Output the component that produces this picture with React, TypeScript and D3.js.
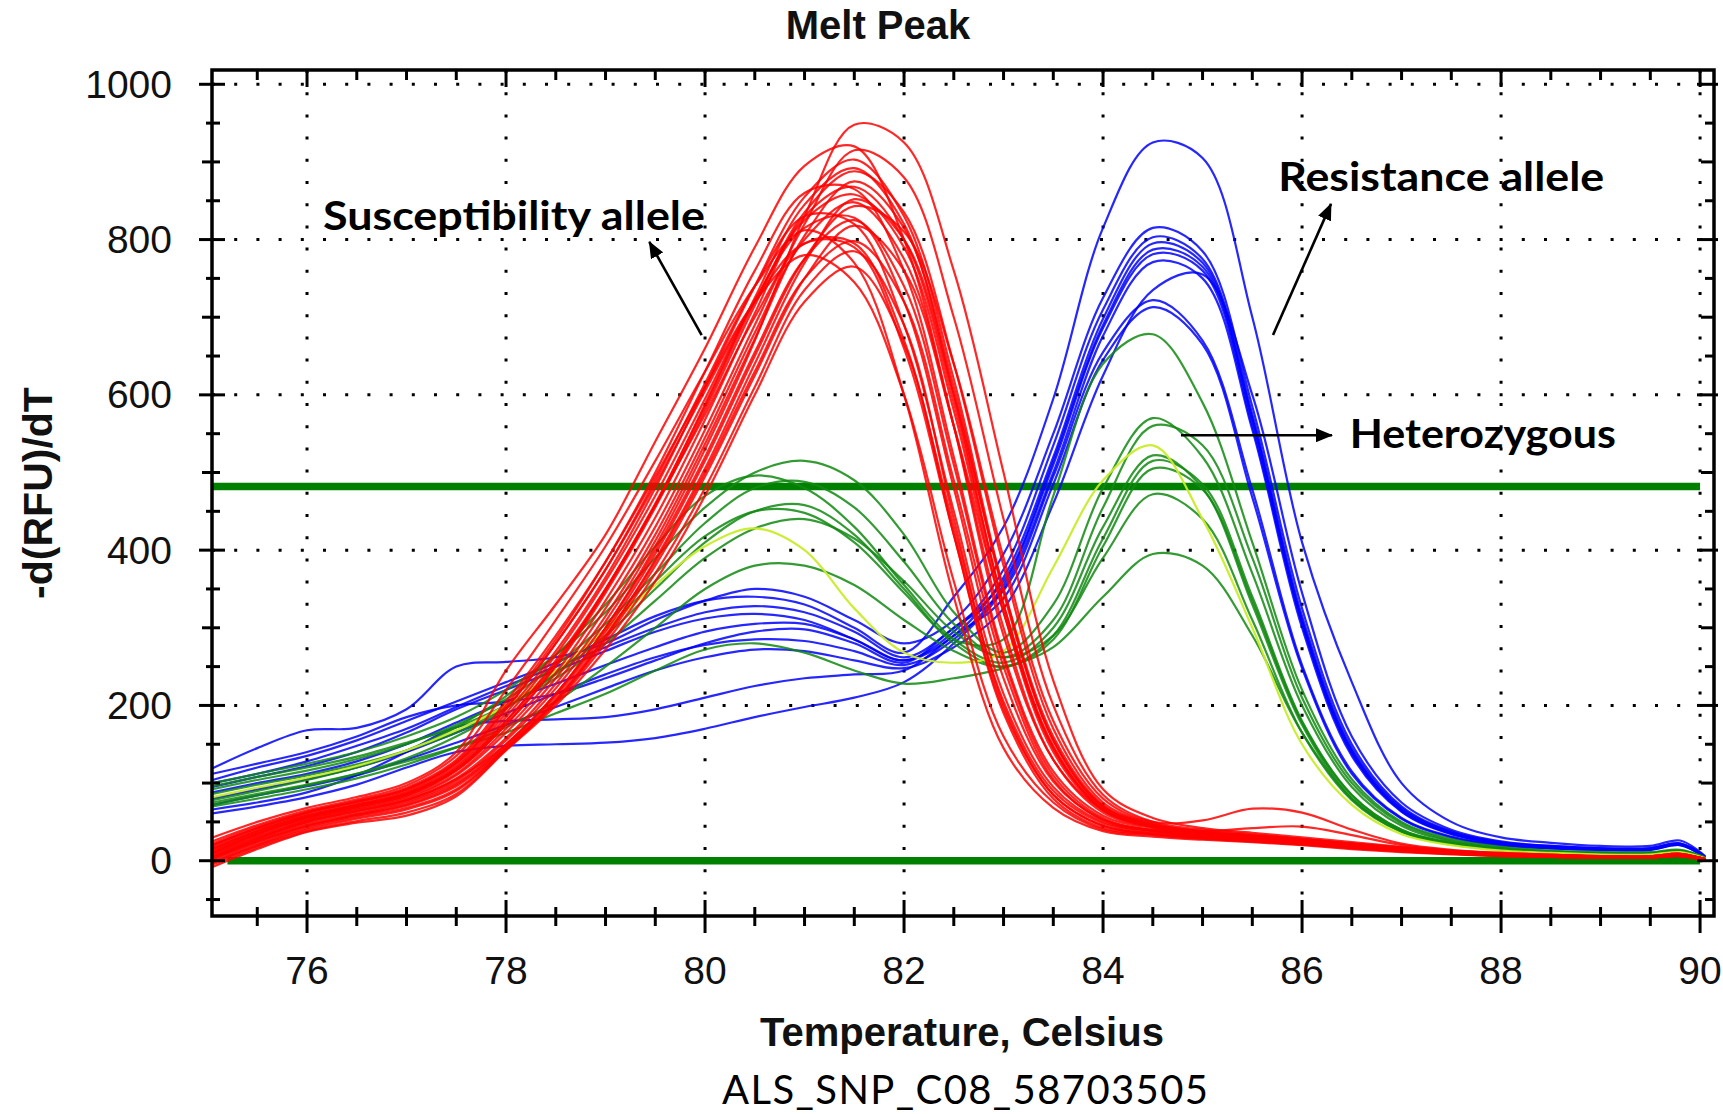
import React from 'react';
import * as d3 from 'd3';

// Temperature grid (Celsius) shared by every melt curve
const TEMPS = [75.05, 75.5, 76, 76.5, 77, 77.5, 78, 78.5, 79, 79.5, 80, 80.5, 81, 81.5, 82, 82.5, 83, 83.5, 84, 84.5, 85, 85.5, 86, 86.5, 87, 87.5, 88, 88.5, 89, 89.5, 89.8, 90.05];

// Susceptibility allele (red) -d(RFU)/dT
const RED_CURVES = [
  [5, 28, 50, 64, 78, 105, 150, 215, 300, 405, 530, 670, 830, 948, 925, 760, 500, 232, 92, 55, 42, 36, 30, 24, 18, 13, 10, 8, 6, 6, 9, 2],
  [30, 50, 68, 82, 100, 140, 245, 330, 420, 540, 660, 790, 895, 920, 800, 560, 290, 130, 65, 45, 36, 32, 28, 22, 16, 12, 9, 7, 5, 5, 8, 2],
  [8, 30, 52, 66, 80, 110, 165, 235, 325, 430, 555, 690, 820, 915, 880, 700, 440, 200, 85, 50, 40, 34, 28, 22, 17, 12, 9, 7, 6, 6, 9, 2],
  [15, 38, 58, 72, 88, 122, 190, 270, 365, 480, 610, 740, 855, 903, 830, 620, 350, 155, 70, 46, 37, 32, 27, 21, 16, 12, 9, 7, 5, 5, 8, 2],
  [10, 33, 55, 69, 84, 116, 175, 250, 345, 455, 580, 715, 835, 888, 835, 640, 380, 170, 75, 48, 38, 33, 28, 22, 17, 12, 9, 7, 5, 5, 8, 2],
  [20, 42, 62, 76, 92, 128, 200, 285, 385, 500, 630, 760, 860, 865, 760, 520, 265, 115, 58, 42, 34, 30, 25, 20, 15, 11, 8, 6, 5, 5, 7, 1],
  [12, 35, 56, 70, 86, 118, 180, 255, 350, 460, 585, 720, 825, 858, 790, 580, 320, 140, 65, 44, 36, 31, 26, 21, 16, 11, 8, 6, 5, 5, 8, 2],
  [6, 28, 50, 64, 78, 106, 158, 228, 315, 420, 545, 680, 800, 848, 775, 560, 300, 130, 62, 43, 35, 30, 26, 20, 15, 11, 8, 6, 5, 5, 7, 1],
  [18, 40, 60, 74, 90, 125, 195, 280, 375, 490, 615, 740, 830, 820, 690, 450, 215, 95, 50, 38, 32, 28, 24, 19, 14, 10, 8, 6, 4, 4, 7, 1],
  [3, 25, 46, 60, 74, 100, 150, 215, 300, 400, 520, 655, 775, 825, 740, 510, 260, 110, 55, 40, 38, 42, 44, 33, 20, 13, 9, 7, 5, 5, 8, 2],
  [-2, 20, 42, 56, 68, 92, 145, 205, 285, 380, 495, 625, 750, 818, 760, 560, 320, 145, 66, 44, 36, 31, 26, 21, 16, 11, 8, 6, 5, 5, 8, 2],
  [14, 36, 57, 71, 86, 118, 180, 258, 350, 458, 575, 700, 795, 795, 670, 430, 205, 90, 48, 37, 31, 27, 23, 18, 14, 10, 7, 5, 4, 4, 6, 1],
  [0, 22, 44, 58, 71, 96, 146, 208, 290, 385, 500, 630, 750, 798, 720, 490, 250, 105, 52, 39, 32, 28, 24, 19, 14, 10, 8, 6, 4, 4, 7, 1],
  [-5, 17, 38, 51, 62, 86, 143, 203, 280, 370, 480, 610, 735, 785, 690, 440, 200, 85, 45, 35, 30, 26, 22, 17, 13, 9, 7, 5, 4, 4, 6, 1],
  [22, 44, 63, 77, 94, 130, 205, 290, 385, 495, 610, 720, 780, 745, 600, 360, 160, 75, 40, 33, 28, 25, 21, 17, 12, 9, 7, 5, 4, 4, 6, 1],
  [-8, 15, 37, 49, 58, 83, 142, 200, 272, 360, 470, 600, 720, 765, 665, 420, 190, 80, 42, 34, 29, 25, 21, 16, 12, 9, 6, 5, 4, 4, 6, 1],
  [2, 24, 45, 59, 72, 98, 148, 212, 295, 395, 515, 650, 775, 843, 810, 640, 390, 180, 80, 50, 52, 67, 62, 40, 22, 14, 10, 8, 6, 6, 9, 2],
  [25, 46, 65, 79, 97, 135, 220, 310, 405, 515, 630, 740, 812, 770, 600, 340, 145, 68, 38, 31, 27, 24, 20, 15, 11, 8, 6, 5, 4, 4, 6, 1],
  [9, 31, 53, 67, 82, 112, 170, 242, 335, 442, 568, 705, 830, 868, 800, 590, 330, 148, 68, 45, 36, 31, 26, 21, 16, 11, 8, 6, 5, 5, 8, 2],
  [16, 38, 58, 72, 87, 120, 185, 265, 360, 470, 595, 722, 815, 828, 720, 480, 235, 102, 53, 39, 33, 29, 24, 19, 14, 10, 8, 6, 4, 4, 7, 1],
  [4, 26, 48, 62, 76, 103, 155, 222, 308, 412, 537, 672, 805, 875, 815, 610, 345, 155, 70, 46, 37, 32, 27, 21, 16, 11, 8, 6, 5, 5, 8, 2],
  [-3, 19, 40, 54, 66, 90, 144, 206, 288, 388, 505, 640, 770, 852, 800, 600, 350, 160, 72, 47, 37, 32, 27, 21, 16, 11, 8, 6, 5, 5, 8, 2],
  [20, 42, 62, 76, 92, 126, 196, 280, 375, 485, 605, 720, 795, 790, 660, 420, 195, 85, 45, 35, 30, 26, 22, 17, 13, 9, 7, 5, 4, 4, 6, 1],
  [11, 34, 55, 69, 84, 116, 176, 252, 348, 458, 588, 725, 845, 892, 820, 600, 330, 145, 66, 44, 36, 31, 26, 21, 16, 11, 8, 6, 5, 5, 8, 2],
];

// Resistance allele (blue)
const BLUE_CURVES = [
  [104, 120, 135, 155, 180, 205, 230, 255, 285, 315, 335, 340, 330, 300, 268, 340, 430, 595, 815, 925, 905, 700, 410, 230, 100, 50, 30, 23, 19, 19, 26, 6],
  [119, 145, 168, 171, 195, 250, 256, 262, 280, 310, 335, 350, 340, 310, 280, 310, 395, 550, 725, 815, 785, 585, 325, 150, 70, 38, 24, 19, 16, 16, 22, 5],
  [95, 108, 122, 140, 165, 195, 220, 245, 270, 295, 312, 318, 310, 285, 258, 295, 375, 535, 710, 803, 775, 575, 315, 145, 68, 37, 23, 18, 16, 16, 22, 5],
  [88, 100, 112, 128, 150, 178, 205, 228, 252, 275, 295, 305, 305, 285, 258, 290, 365, 520, 698, 795, 770, 570, 310, 142, 66, 36, 23, 18, 15, 15, 21, 5],
  [80, 92, 105, 120, 140, 165, 190, 215, 240, 262, 278, 285, 283, 270, 252, 285, 355, 510, 686, 781, 760, 560, 305, 138, 64, 35, 22, 18, 15, 15, 21, 5],
  [72, 84, 96, 110, 130, 152, 175, 198, 222, 245, 262, 272, 270, 258, 248, 275, 325, 460, 625, 735, 755, 600, 345, 160, 75, 40, 25, 19, 16, 16, 22, 5],
  [112, 125, 140, 160, 185, 200, 205, 215, 235, 258, 280, 295, 298, 280, 255, 300, 348, 495, 655, 722, 670, 478, 252, 115, 55, 31, 20, 16, 14, 14, 20, 4],
  [66, 75, 88, 110, 140, 172, 180, 182, 185, 195, 210, 225, 235, 240, 245, 290, 338, 485, 645, 713, 665, 468, 248, 112, 54, 30, 20, 16, 14, 14, 20, 4],
  [61, 70, 82, 98, 120, 140, 148, 150, 152, 158, 170, 185, 198, 210, 230, 280, 350, 500, 676, 771, 750, 555, 300, 135, 63, 34, 22, 17, 15, 15, 21, 5],
  [100, 112, 128, 148, 170, 198, 225, 250, 275, 300, 320, 328, 320, 295, 262, 300, 360, 515, 690, 787, 765, 567, 307, 140, 65, 35, 22, 18, 15, 15, 21, 5],
];

// Heterozygous (green)
const GREEN_CURVES = [
  [100, 112, 125, 140, 160, 185, 220, 265, 320, 390, 455, 500, 515, 490, 420, 320, 268, 330, 480, 570, 520, 370, 200, 95, 45, 25, 16, 12, 10, 10, 13, 4],
  [86, 98, 110, 124, 142, 165, 198, 240, 290, 350, 410, 450, 458, 420, 350, 285, 285, 470, 640, 678, 590, 410, 220, 105, 50, 28, 18, 13, 11, 11, 14, 4],
  [92, 104, 116, 131, 150, 175, 208, 252, 305, 370, 435, 480, 488, 455, 385, 305, 262, 310, 455, 560, 535, 390, 210, 100, 48, 26, 17, 12, 10, 10, 13, 4],
  [78, 90, 104, 120, 142, 172, 212, 265, 330, 405, 470, 496, 480, 430, 355, 285, 255, 300, 430, 522, 480, 330, 175, 80, 38, 22, 15, 11, 9, 9, 12, 3],
  [72, 84, 97, 112, 132, 160, 196, 242, 298, 360, 418, 450, 448, 410, 345, 280, 250, 290, 415, 515, 485, 340, 180, 85, 40, 23, 15, 11, 9, 9, 12, 3],
  [70, 80, 92, 106, 124, 146, 172, 205, 250, 300, 350, 380, 380, 355, 310, 270, 250, 285, 405, 505, 478, 335, 178, 84, 40, 23, 15, 11, 9, 9, 12, 3],
  [96, 108, 120, 134, 152, 172, 200, 235, 280, 335, 390, 428, 440, 415, 360, 295, 262, 290, 390, 472, 440, 310, 165, 78, 37, 21, 14, 10, 9, 9, 12, 3],
  [75, 86, 98, 112, 128, 146, 165, 190, 215, 245, 272, 280, 268, 245, 228, 235, 248, 275, 340, 395, 380, 290, 165, 80, 38, 22, 14, 10, 9, 9, 12, 3],
];

// Heterozygous sample drawn in yellow-green
const YELLOW_CURVES = [
  [82, 94, 107, 122, 142, 168, 200, 245, 298, 355, 405, 428, 400, 325, 268, 255, 270, 378, 490, 535, 440, 300, 150, 72, 34, 20, 13, 10, 8, 8, 11, 3],
];

// Horizontal threshold lines (green)
const THRESHOLDS = [482, 0];

const X_TICK_LABELS = [76, 78, 80, 82, 84, 86, 88, 90];
const Y_TICK_LABELS = [0, 200, 400, 600, 800, 1000];

const TITLE = 'Melt Peak';
const X_TITLE = 'Temperature, Celsius';
const Y_TITLE = '-d(RFU)/dT';
const SUBTITLE = 'ALS_SNP_C08_58703505';

export default function App() {
  const W = 1723;
  const H = 1114;
  const L = 212, R = 1714, T = 70, B = 916;

  const x = d3.scaleLinear().domain([75.045, 90.14]).range([L, R]);
  const y = d3.scaleLinear().domain([-71.2, 1018.4]).range([B, T]);

  const line = d3
    .line<number>()
    .x((_, i) => x(TEMPS[i]))
    .y((d) => y(d))
    .curve(d3.curveCatmullRom.alpha(0.5));

  const yMinor = d3.range(-50, 1001, 50);
  const xMinor = d3.range(75.5, 90.01, 0.5);
  const isMajorY = (v: number) => v % 200 === 0;
  const isMedY = (v: number) => v % 100 === 0;
  const isMajorX = (t: number) => Math.abs(t / 2 - Math.round(t / 2)) < 1e-6;

  const dot = { stroke: '#000', strokeWidth: 3, strokeDasharray: '3 19.2', fill: 'none' };
  const labelFont = "'Liberation Sans', Arial, sans-serif";
  const annFont = "Lato, 'Open Sans', sans-serif";

  // annotation anchors in data units (temperature, value)
  const arrows = [
    { from: [79.966, 677], to: [79.44, 797] },
    { from: [85.708, 677], to: [86.291, 846] },
    { from: [84.783, 548], to: [86.301, 548] },
  ];
  const annTexts = [
    { text: 'Susceptibility allele', t: 76.16, v: 812, len: 382 },
    { text: 'Resistance allele', t: 85.76, v: 862, len: 326 },
    { text: 'Heterozygous', t: 86.48, v: 532, len: 266 },
  ];

  return (
    <svg
      width={W}
      height={H}
      viewBox={`0 0 ${W} ${H}`}
      style={{ position: 'absolute', left: 0, top: 0, background: '#fff' }}
    >
      <defs>
        <clipPath id="plotClip">
          <rect x={L} y={T} width={R - L} height={B - T} />
        </clipPath>
        <marker
          id="arrowHead"
          markerUnits="userSpaceOnUse"
          markerWidth={18}
          markerHeight={14}
          refX={16}
          refY={7}
          orient="auto"
        >
          <path d="M0,0 L17,7 L0,14 Z" fill="#000" />
        </marker>
      </defs>
      <rect x={0} y={0} width={W} height={H} fill="#fff" />

      {/* title */}
      <text x={878} y={39} textAnchor="middle" fontFamily={labelFont} fontWeight="bold" fontSize={40} fill="#111">
        {TITLE}
      </text>

      {/* dotted grid */}
      {Y_TICK_LABELS.map((v) => (
        <line key={'gy' + v} x1={L} x2={R} y1={y(v)} y2={y(v)} {...dot} />
      ))}
      {X_TICK_LABELS.map((t) => (
        <line key={'gx' + t} x1={x(t)} x2={x(t)} y1={T} y2={B} {...dot} />
      ))}

      {/* threshold lines */}
      {THRESHOLDS.map((v, i) => (
        <line
          key={'th' + i}
          x1={x(i === 0 ? 75.045 : 75.2)}
          x2={x(90)}
          y1={y(v)}
          y2={y(v)}
          stroke="#008000"
          strokeWidth={7.5}
        />
      ))}

      {/* curves */}
      <g clipPath="url(#plotClip)" fill="none" strokeWidth={2.2} strokeLinejoin="round">
        {BLUE_CURVES.map((c, i) => (
          <path key={'b' + i} d={line(c) || ''} stroke="#0000ff" strokeOpacity={0.85} />
        ))}
        {GREEN_CURVES.map((c, i) => (
          <path key={'g' + i} d={line(c) || ''} stroke="#118a11" strokeOpacity={0.85} />
        ))}
        {YELLOW_CURVES.map((c, i) => (
          <path key={'y' + i} d={line(c) || ''} stroke="#c8ec28" strokeOpacity={0.95} />
        ))}
        {RED_CURVES.map((c, i) => (
          <path key={'r' + i} d={line(c) || ''} stroke="#ff0000" strokeOpacity={0.85} />
        ))}
      </g>

      {/* frame */}
      <rect x={L} y={T} width={R - L} height={B - T} fill="none" stroke="#000" strokeWidth={3.5} />

      {/* y ticks left & right */}
      {yMinor.map((v) => {
        const yy = y(v);
        const maj = isMajorY(v);
        const med = isMedY(v);
        return (
          <g key={'yt' + v} stroke="#000" strokeWidth={3}>
            <line x1={maj ? L - 13 : med ? L - 10 : L - 6} x2={maj ? L + 13 : L + 8} y1={yy} y2={yy} />
            <line x1={maj ? R - 17 : med ? R - 13 : R - 9} x2={maj ? R + 4 : R} y1={yy} y2={yy} />
          </g>
        );
      })}

      {/* x ticks bottom & top */}
      {xMinor.map((t) => {
        const xx = x(t);
        const maj = isMajorX(t);
        return (
          <g key={'xt' + t} stroke="#000" strokeWidth={3}>
            <line x1={xx} x2={xx} y1={maj ? B - 16 : B - 9} y2={maj ? B + 17 : B + 10} />
            <line x1={xx} x2={xx} y1={T} y2={maj ? T + 17 : T + 10} />
          </g>
        );
      })}

      {/* tick labels */}
      {Y_TICK_LABELS.map((v) => (
        <text
          key={'yl' + v}
          x={172}
          y={y(v) + 13.5}
          textAnchor="end"
          fontFamily={labelFont}
          fontSize={39}
          fill="#111"
        >
          {v}
        </text>
      ))}
      {X_TICK_LABELS.map((t) => (
        <text
          key={'xl' + t}
          x={x(t)}
          y={984}
          textAnchor="middle"
          fontFamily={labelFont}
          fontSize={39}
          fill="#111"
        >
          {t}
        </text>
      ))}

      {/* axis titles */}
      <text x={962} y={1046} textAnchor="middle" fontFamily={labelFont} fontWeight="bold" fontSize={40} fill="#111">
        {X_TITLE}
      </text>
      <text
        transform="translate(52,493) rotate(-90)"
        textAnchor="middle"
        fontFamily={labelFont}
        fontWeight="bold"
        fontSize={41}
        fill="#111"
      >
        {Y_TITLE}
      </text>
      <text
        x={722}
        y={1104}
        fontFamily={annFont}
        fontSize={40}
        fill="#000"
        textLength={486}
        lengthAdjust="spacing"
      >
        {SUBTITLE}
      </text>

      {/* annotations */}
      {arrows.map((a, i) => (
        <line
          key={'ar' + i}
          x1={x(a.from[0])}
          y1={y(a.from[1])}
          x2={x(a.to[0])}
          y2={y(a.to[1])}
          stroke="#000"
          strokeWidth={2.6}
          markerEnd="url(#arrowHead)"
        />
      ))}
      {annTexts.map((a, i) => (
        <text
          key={'at' + i}
          x={x(a.t)}
          y={y(a.v)}
          fontFamily={annFont}
          fontWeight="bold"
          fontSize={40}
          fill="#000"
          textLength={a.len}
          lengthAdjust="spacingAndGlyphs"
        >
          {a.text}
        </text>
      ))}
    </svg>
  );
}
